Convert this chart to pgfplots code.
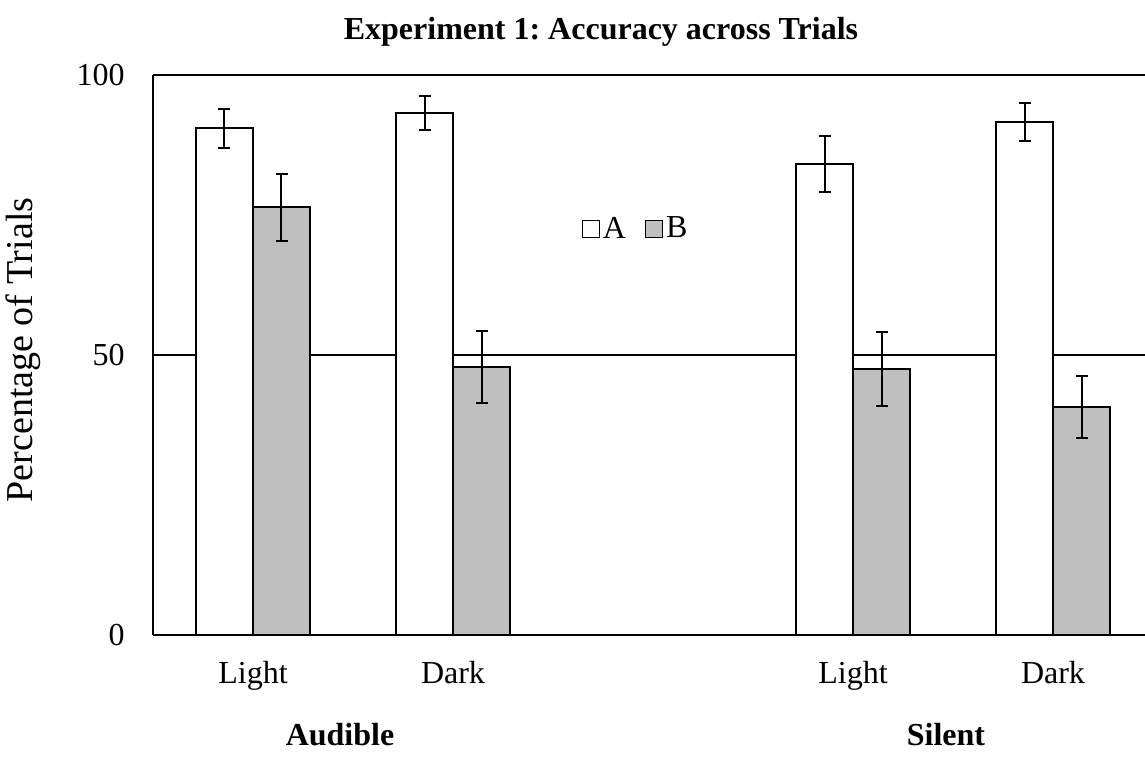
\documentclass[border=0pt]{standalone}
\usepackage{fontspec}
\setmainfont{Liberation Serif}
\usepackage{pgfplots}
\pgfplotsset{compat=1.18}
\definecolor{barB}{RGB}{191,191,191}
\newcommand{\fs}{\fontsize{16}{19}\selectfont}
\frenchspacing
\begin{document}
\begin{tikzpicture}
\begin{axis}[
  name=ax, at={(0,0)}, anchor=south west,
  scale only axis, width=496pt, height=280pt,
  xmin=-0.5, xmax=4.46, ymin=0, ymax=100,
  axis x line*=box, axis y line*=left,
  axis line style={line width=1.2pt, black},
  ytick={0,50,100},
  xtick={0,1,3,4}, xticklabels={Light,Dark,Light,Dark},
  major tick length=0pt,
  ymajorgrids, grid style={line width=0.6pt, black},
  ybar, bar width=0.285,
  clip=false,
  /pgf/number format/assume math mode=true,
  tick label style={font=\fs},
  yticklabel style={anchor=east, inner sep=0pt, xshift=-14pt},
  xticklabel style={anchor=base, inner sep=0pt, yshift=-24pt},
  legend columns=2,
  legend style={draw=none, fill=none, at={(rel axis cs:0.487,0.725)}, anchor=center,
    font=\fs, cells={anchor=west}, nodes={inner sep=1.5pt},
    /tikz/every even column/.append style={column sep=8pt}},
  legend image code/.code={\draw[#1, line width=0.6pt] (0pt,-4.25pt) rectangle (8.5pt,4.25pt);},
  error bars/y dir=both, error bars/y explicit,
  error bars/error bar style={line width=1pt, black},
  error bars/error mark options={rotate=90, mark size=3pt, line width=1pt, black},
]
\addplot[fill=white, draw=black, line width=1pt, bar shift=-0.1425]
  coordinates {(0,90.5) +- (0,3.5) (1,93.2) +- (0,3.0) (3,84.1) +- (0,5.0) (4,91.6) +- (0,3.4)};
\addlegendentry{A}
\addplot[fill=barB, draw=black, line width=1pt, bar shift=0.1425]
  coordinates {(0,76.4) +- (0,6.0) (1,47.9) +- (0,6.4) (3,47.5) +- (0,6.6) (4,40.7) +- (0,5.5)};
\addlegendentry{B}
\node[font=\bfseries\fs, anchor=base, inner sep=0pt, yshift=18pt] at (rel axis cs:0.4516,1) {Experiment 1: Accuracy across Trials};
\node[font=\bfseries\fs, anchor=base, inner sep=0pt, yshift=-55pt] at (axis cs:0.435,0) {Audible};
\node[font=\bfseries\fs, anchor=base, inner sep=0pt, yshift=-55pt] at (axis cs:3.465,0) {Silent};
\node[xshift=-60pt, font=\fontsize{19}{22}\selectfont, rotate=90, anchor=base, inner sep=0pt] at (rel axis cs:0,0.509) {Percentage of Trials};
\end{axis}
\pgfresetboundingbox
\path (-76.5pt,-60.5pt) rectangle (496pt,317.5pt);
\end{tikzpicture}
\end{document}
